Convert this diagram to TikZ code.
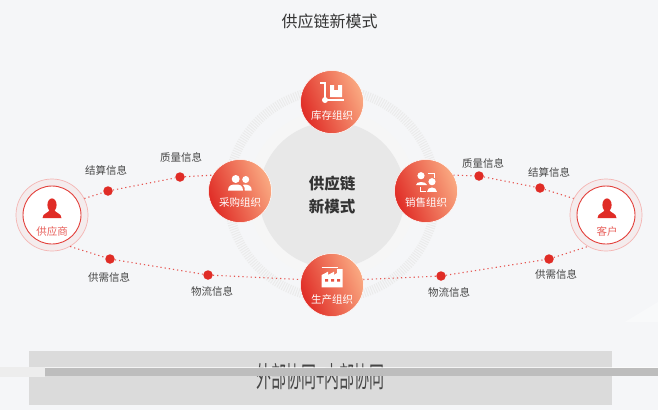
\documentclass[tikz,border=0pt]{standalone}
\usepackage{fontspec}
\setmainfont{Noto Sans CJK SC}
\definecolor{cpage}{RGB}{245,246,248}
\definecolor{cred}{RGB}{224,44,38}
\definecolor{cpeach}{RGB}{250,170,130}
\definecolor{cink}{RGB}{70,70,70}
\tikzset{
  orgnode/.style={circle,minimum size=63pt,inner sep=0pt,draw=white,line width=0.5pt,
    left color=cred,right color=cpeach,middle color=cred!50!cpeach,shading angle=112},
  orglabel/.style={white,font=\fontsize{10.5}{12}\selectfont},
  infolabel/.style={cink,font=\fontsize{10.5}{12}\selectfont},
  infodot/.style={circle,fill=cred,minimum size=9.5pt,inner sep=0pt},
  infoline/.style={cred!80,line width=1.1pt,dash pattern=on 1.2pt off 3pt},
  partner/.style={circle,minimum size=72pt,inner sep=0pt,draw=cred!35,line width=0.7pt,fill=cred!5!cpage},
  partnerin/.style={circle,minimum size=58pt,inner sep=0pt,draw=cred!90,line width=0.9pt,fill=white},
  partnerlabel/.style={cred!75,font=\fontsize{10.5}{12}\selectfont},
  icon/.style={fill=white,draw=none},
  person/.pic={
    \fill[cred] (0,-10) ellipse (4.6pt and 6.6pt);
    \fill[cred] (-9.5,3) .. controls (-9.5,-2) and (-3,-2) .. (-2.5,-5) -- (2.5,-5)
      .. controls (3,-2) and (9.5,-2) .. (9.5,3) -- cycle;
  }
}

\begin{document}
\begin{tikzpicture}[x=1pt,y=-1pt]
    \useasboundingbox (0,0) rectangle (658,410);
    \fill[cpage] (0,0) rectangle (658,410);
    \fill[white,opacity=0.35] (625,322) -- (658,302) -- (658,322) -- cycle;
    \node[black!80,font=\fontsize{16}{18}\selectfont] (title) at (329.5,21) {供应链新模式};
    % rings behind the centre
    \draw[black!8,line width=9pt,dash pattern=on 1pt off 1.4pt] (332,194) circle (104);
    \fill[black!3.5] (332,194) circle (84);
    \node[circle,fill=black!9,minimum size=146pt,inner sep=0pt,align=center,
      font=\fontsize{15.5}{23}\selectfont\bfseries,text=black!80] (centre) at (332,195) {供应链\\新模式};
    % organisations
    \node[orgnode] (stock) at (332,102) {};
    \node[orgnode] (purchase) at (240,191) {};
    \node[orgnode] (sales) at (426,191) {};
    \node[orgnode] (production) at (332,285) {};
    \node[orglabel] (stocktext) at (332,116) {库存组织};
    \node[orglabel] (purchasetext) at (240,203) {采购组织};
    \node[orglabel] (salestext) at (426,203) {销售组织};
    \node[orglabel] (productiontext) at (332,300) {生产组织};
    % partners
    \node[partner] (supplierring) at (52,215) {};
    \node[partnerin] (supplier) at (52,215) {};
    \node[partner] (customerring) at (606,215) {};
    \node[partnerin] (customer) at (606,215) {};
    \pic at (52,215) {person};
    \pic at (607,215) {person};
    \node[partnerlabel] (suppliertext) at (52,231) {供应商};
    \node[partnerlabel] (customertext) at (607,231) {客户};
    % information points
    \foreach \name/\x/\y in {dotA/108/191,dotB/180/177,dotC/110/259,dotD/208/275,
      dotE/479/176,dotF/540/188,dotG/549/259,dotH/441/276}
      \node[infodot] (\name) at (\x,\y) {};
    \draw[infoline] (supplierring.27) -- (dotA);
    \draw[infoline] (dotA) -- (dotB);
    \draw[infoline] (dotB) -- (purchase.150);
    \draw[infoline] (supplierring.-60) -- (dotC);
    \draw[infoline] (dotC) -- (dotD);
    \draw[infoline] (dotD) -- (production.170);
    \draw[infoline] (sales.30) -- (dotE);
    \draw[infoline] (dotE) -- (dotF);
    \draw[infoline] (dotF) -- (customerring.153);
    \draw[infoline] (production.10) -- (dotH);
    \draw[infoline] (dotH) -- (dotG);
    \draw[infoline] (dotG) -- (customerring.-120);
    \foreach \name/\x/\y/\txt in {infoA/106/170/结算信息,infoB/181/157/质量信息,infoC/109/277/供需信息,
      infoD/212/291/物流信息,infoE/483/163/质量信息,infoF/549/172/结算信息,
      infoG/556/274/供需信息,infoH/449/292/物流信息}
      \node[infolabel] (\name) at (\x,\y) {\txt};
    % cart icon
    \draw[white,line width=1.3pt] (320,83) -- (325,83) -- (325,100) -- (344,100);
    \fill[white] (325,100) circle (3);
    \fill[icon] (330,85) -- (334,85) -- (334,90) -- (338,90) -- (338,85) -- (342,85) -- (342,97) -- (330,97) -- cycle;
    % people icon
    \fill[icon] (235.7,179) circle (4) (245.7,179.5) circle (3.5);
    \fill[icon] (228,190.6) .. controls (228,185) and (232,184.5) .. (235.7,184.5)
      .. controls (239.5,184.5) and (243,185) .. (243,190.6) -- cycle;
    \fill[icon] (244,184.5) .. controls (249,184.5) and (251.7,186) .. (251.7,190.6) -- (244.8,190.6)
      .. controls (244.8,188) and (244.5,186) .. (243,185) -- cycle;
    % sales icon
    \fill[icon] (421,175.7) circle (3.6) (432,181.7) circle (3.6);
    \fill[icon] (416,185) .. controls (416,181) and (426,181) .. (427,185) -- cycle;
    \fill[icon] (427,192) .. controls (427,186) and (437,186) .. (437,192) -- cycle;
    \draw[white,line width=1pt] (428,173.5) -- (434.5,173.5) -- (434.5,177.5);
    \draw[white,line width=1pt] (420.5,187) -- (420.5,191.5) -- (426,191.5);
    % factory icon
    \draw[white,line width=0.9pt] (321.7,267.3) -- (338,267.3);
    \fill[icon] (321.7,287.3) -- (321.7,275) -- (328,271.7) -- (328,275) -- (334,271.7) -- (334,275)
      -- (337,273) -- (337,269) -- (342.7,269) -- (342.7,287.3) -- cycle;
    \fill[cred!70!cpeach] (325,279) rectangle +(3,2.5) (331,279) rectangle +(3,2.5) (337,279) rectangle +(3,2.5);
    % bottom band with its broken caption
    \fill[black!14] (29,351) rectangle (612,405);
    \node[cink,font=\fontsize{15}{18}\selectfont,yscale=1.9,transform shape] (bandtext) at (320.5,376.5) {外部协同+内部协同};
    \fill[black!7] (0,367) rectangle (45,377);
    \fill[black!26] (45,368) rectangle (658,375.5);
    \draw[white,line width=0.5pt,opacity=0.7] (45,367.5) -- (658,367.5);
\end{tikzpicture}
\end{document}
